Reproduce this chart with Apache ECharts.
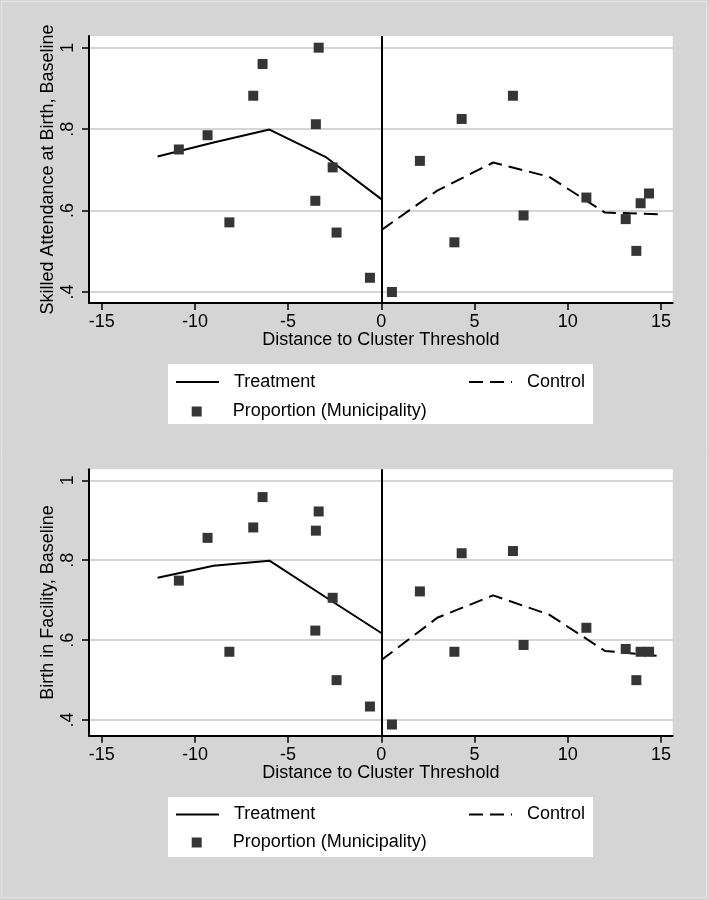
<!DOCTYPE html>
<html><head><meta charset="utf-8">
<script src="https://cdn.jsdelivr.net/npm/echarts@6/dist/echarts.min.js"></script>
<style>html,body{margin:0;padding:0;background:#d5d5d5}#c{width:709px;height:900px}</style>
</head><body><div id="c"></div>
<script>
// ---- data ----
const xTicks = [-15, -10, -5, 0, 5, 10, 15];
const yTicks = [0.4, 0.6, 0.8, 1];
const treatX = [-12, -9, -6, -3, 0];
const ctrlX = [0, 3, 6, 9, 12, 15];
const muniX = [-10.86, -9.32, -8.15, -6.87, -6.37, -3.36, -3.51, -3.54, -2.61, -2.40, -0.61,
               0.57, 2.07, 3.92, 4.31, 7.06, 7.63, 11.0, 13.11, 13.68, 13.91, 14.36];
const sbaTreat = [0.733, 0.767, 0.799, 0.732, 0.628];
const sbaCtrl = [0.552, 0.649, 0.718, 0.683, 0.595, 0.591];
const sbaMuni = [0.750, 0.785, 0.571, 0.882, 0.960, 1.0, 0.812, 0.624, 0.706, 0.546, 0.435,
                 0.400, 0.722, 0.522, 0.825, 0.882, 0.588, 0.632, 0.579, 0.501, 0.618, 0.642];
const facTreat = [0.756, 0.786, 0.799, 0.708, 0.618];
const facCtrl = [0.550, 0.656, 0.712, 0.664, 0.573, 0.560];
const facMuni = [0.749, 0.856, 0.571, 0.882, 0.958, 0.922, 0.874, 0.624, 0.706, 0.500, 0.434,
                 0.389, 0.722, 0.571, 0.8175, 0.823, 0.588, 0.631, 0.578, 0.500, 0.571, 0.571];
const xTitle = 'Distance to Cluster Threshold';
const yTitles = ['Skilled Attendance at Birth, Baseline', 'Birth in Facility, Baseline'];
const legendNames = ['Treatment', 'Control', 'Proportion (Municipality)'];

const FONT = '"Liberation Sans", Arial, sans-serif';
const zip = (a, b) => a.map((v, i) => [v, b[i]]);
const fmtY = v => (v === 1 ? '1' : String(+v.toFixed(1)).replace(/^0/, ''));

const grids = [
  {left: 89, top: 36, width: 583.7, height: 267},
  {left: 89, top: 469.3, width: 583.7, height: 266.4}
];
const yRanges = [[0.373, 1.0287], [0.361, 1.0275]];

function xAxis(i) {
  return {
    gridIndex: i, type: 'value', min: -15.68, max: 15.63,
    axisLine: {show: true, onZero: false, lineStyle: {color: '#000', width: 2}},
    axisTick: {show: true, length: 7, customValues: xTicks, lineStyle: {color: '#000', width: 1.5}},
    axisLabel: {customValues: xTicks, fontSize: 18, fontFamily: FONT, color: '#000', margin: 10},
    splitLine: {show: false},
    name: xTitle, nameLocation: 'middle', nameGap: 28, nameMoveOverlap: false,
    nameTextStyle: {fontSize: 18, fontFamily: FONT, color: '#000'}
  };
}
function yAxis(i) {
  return {
    gridIndex: i, type: 'value', min: yRanges[i][0], max: yRanges[i][1],
    axisLine: {show: true, onZero: false, lineStyle: {color: '#000', width: 2}},
    axisTick: {show: true, length: 7, customValues: yTicks, lineStyle: {color: '#000', width: 1.5}},
    axisLabel: {customValues: yTicks, rotate: 90, fontSize: 18, fontFamily: FONT, color: '#000', margin: 12, formatter: fmtY},
    splitLine: {show: true, lineStyle: {color: '#c8c8c8', width: 1.5}},
    name: yTitles[i], nameLocation: 'middle', nameGap: 32, nameMoveOverlap: false,
    nameTextStyle: {fontSize: 18, fontFamily: FONT, color: '#000'}
  };
}
function seriesFor(i, tr, ct, mu) {
  return [
    {name: legendNames[0], type: 'line', xAxisIndex: i, yAxisIndex: i, data: zip(treatX, tr),
     symbol: 'none', lineStyle: {color: '#000', width: 2}, itemStyle: {color: '#000'}, z: 3,
     markLine: {silent: true, symbol: ['none', 'none'], label: {show: false},
       lineStyle: {color: '#000', width: 2, type: 'solid'}, data: [{xAxis: 0}], animation: false}},
    {name: legendNames[1], type: 'line', xAxisIndex: i, yAxisIndex: i, data: zip(ctrlX, ct),
     symbol: 'none', lineStyle: {color: '#000', width: 2, type: [14, 7]}, itemStyle: {color: '#000'}, z: 3},
    {name: legendNames[2], type: 'scatter', xAxisIndex: i, yAxisIndex: i, data: zip(muniX, mu),
     symbol: 'rect', symbolSize: 10, itemStyle: {color: '#353535', opacity: 1}, z: 4}
  ];
}
function legendsAt(y1, y2) {
  const base = {orient: 'horizontal', padding: 0, itemWidth: 43, itemHeight: 14, selectedMode: false,
    itemStyle: {color: 'rgba(0,0,0,0)', opacity: 0, borderWidth: 0},
    textStyle: {fontSize: 18, fontFamily: FONT, color: '#000', padding: [0, 0, 0, 10]}};
  return [
    Object.assign({}, base, {left: 175, top: y1, data: [legendNames[0]]}),
    Object.assign({}, base, {left: 468, top: y1, data: [legendNames[1]]}),
    {orient: 'horizontal', padding: 0, itemWidth: 10, itemHeight: 10, selectedMode: false,
     left: 191.7, top: y2, icon: 'rect', itemStyle: {color: '#353535', opacity: 1},
     textStyle: {fontSize: 18, fontFamily: FONT, color: '#000', padding: [0, 0, 0, 26]},
     data: [legendNames[2]]}
  ];
}

const chart = echarts.init(document.getElementById('c'), null, {renderer: 'canvas'});
chart.setOption({
  animation: false,
  backgroundColor: '#d5d5d5',
  textStyle: {fontFamily: FONT},
  grid: grids.map(g => Object.assign({show: true, backgroundColor: '#fff', borderWidth: 0}, g)),
  xAxis: [xAxis(0), xAxis(1)],
  yAxis: [yAxis(0), yAxis(1)],
  legend: legendsAt(373, 402.5).concat(legendsAt(805.5, 833.5)),
  graphic: [
    {type: 'rect', z: -1, shape: {x: 1.5, y: 1.5, width: 705, height: 896}, style: {fill: null, stroke: '#e4e4e4', lineWidth: 1}},
    {type: 'rect', z: -1, shape: {x: 168, y: 364, width: 425, height: 60}, style: {fill: '#fff'}},
    {type: 'rect', z: -1, shape: {x: 168, y: 797, width: 425, height: 60}, style: {fill: '#fff'}}
  ],
  series: seriesFor(0, sbaTreat, sbaCtrl, sbaMuni).concat(seriesFor(1, facTreat, facCtrl, facMuni))
});
</script>
</body></html>
